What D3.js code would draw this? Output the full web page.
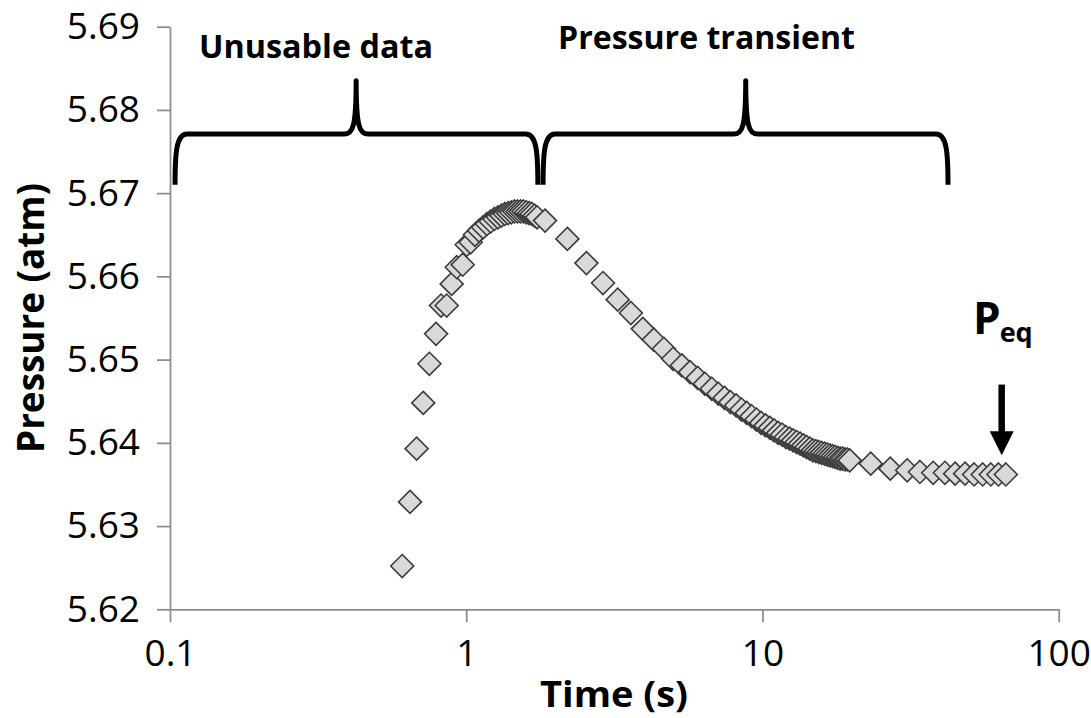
<!DOCTYPE html>
<html>
<head>
<meta charset="utf-8">
<script src="https://cdn.jsdelivr.net/npm/d3@7"></script>
<style>
  html, body { margin: 0; padding: 0; background: #ffffff; }
  svg { display: block; }
</style>
</head>
<body>
<script>
// Time (s) and pressure (atm) readings: fast sampling through the peak
const timeRise = [0.608, 0.646, 0.680, 0.716, 0.751, 0.791, 0.822, 0.859, 0.893, 0.929, 0.973, 1.004, 1.035,
  1.07, 1.105, 1.14, 1.175, 1.21, 1.245, 1.28, 1.315, 1.35, 1.385, 1.42, 1.455, 1.49, 1.525, 1.56, 1.595,
  1.63, 1.665, 1.70, 1.735];
const pressureRise = [5.6252, 5.6329, 5.6393, 5.6448, 5.6495, 5.6531, 5.6565, 5.6565, 5.6591, 5.6611, 5.6614, 5.6638, 5.6641,
  5.6650, 5.6655, 5.6659, 5.6663, 5.6666, 5.6669, 5.6671, 5.6673, 5.6675, 5.6676, 5.6677, 5.6678, 5.6678, 5.6678, 5.6678, 5.6677,
  5.6676, 5.6675, 5.6673, 5.6671];

// Slower sampling through the decay
const timeDecay = [1.845, 2.195, 2.545, 2.895, 3.245, 3.595, 3.945, 4.295, 4.645, 4.995, 5.345, 5.695, 6.045,
  6.395, 6.745, 7.095, 7.445, 7.795, 8.145, 8.495, 8.845, 9.195, 9.545, 9.895, 10.245, 10.595, 10.945, 11.295,
  11.645, 11.995, 12.345, 12.695, 13.045, 13.395, 13.745, 14.095, 14.445, 14.795, 15.145, 15.495, 15.845,
  16.195, 16.545, 16.895, 17.245, 17.595, 17.945, 18.295, 18.645, 18.995, 19.345, 19.695];
const pressureDecay = [5.6667, 5.6645, 5.6616, 5.6592, 5.6572, 5.6556, 5.6537, 5.6524, 5.6513, 5.6501, 5.6493, 5.6485, 5.6478,
  5.6471, 5.6465, 5.6459, 5.6454, 5.6449, 5.6445, 5.6440, 5.6436, 5.6432, 5.6428, 5.6424, 5.6421, 5.6418, 5.6415, 5.6412,
  5.6410, 5.6407, 5.6405, 5.6403, 5.6401, 5.6399, 5.6397, 5.6395, 5.6393, 5.6391, 5.6390, 5.6389, 5.6388,
  5.6387, 5.6386, 5.6385, 5.6384, 5.6383, 5.6382, 5.6381, 5.6381, 5.6380, 5.6380, 5.6379];

// Sparse sampling as pressure settles to equilibrium
const timeTail = [23.2, 27.0, 30.8, 34.0, 37.7, 41.3, 44.7, 48.3, 51.8, 55.4, 59.0, 62.6, 66.3];
const pressureTail = [5.6375, 5.6369, 5.6367, 5.6365, 5.6364, 5.6364, 5.6363, 5.6363, 5.6362, 5.6362, 5.6362, 5.6362, 5.6362];

// Axis ticks
const xTicks = [0.1, 1, 10, 100];
const xTickLabels = ["0.1", "1", "10", "100"];
const yTicks = [5.62, 5.63, 5.64, 5.65, 5.66, 5.67, 5.68, 5.69];
const yTickLabels = ["5.62", "5.63", "5.64", "5.65", "5.66", "5.67", "5.68", "5.69"];

// Brace annotations (time span, tip time, label)
const braceStart = [0.104, 1.817];
const braceEnd = [1.745, 42.3];
const braceTip = [0.425, 8.78];
const braceLabels = ["Unusable data", "Pressure transient"];
// Brace levels in pressure units: arm ends, bar, tip
const braceLevels = [5.6710, 5.6771, 5.6835];

// Equilibrium marker
const eqTime = 64.2;
const eqArrowFrom = 5.6470;
const eqArrowTo = 5.6385;

const W = 1091, H = 718;
const plot = { left: 170, right: 1058.7, top: 26.7, bottom: 609.3 };
const font = "'Open Sans', 'DejaVu Sans', sans-serif";

const x = d3.scaleLog().domain([0.1, 100]).range([plot.left, plot.right]);
const y = d3.scaleLinear().domain([5.62, 5.69]).range([plot.bottom, plot.top]);

const svg = d3.select("body").append("svg")
  .attr("width", W).attr("height", H)
  .attr("viewBox", `0 0 ${W} ${H}`);

const axisColor = "#8c8c8c";

// X axis
const gx = svg.append("g")
  .attr("transform", `translate(0,${plot.bottom})`)
  .call(d3.axisBottom(x)
    .tickValues(xTicks)
    .tickFormat((d, i) => xTickLabels[i])
    .tickSizeInner(13).tickSizeOuter(0).tickPadding(17));

// Y axis
const gy = svg.append("g")
  .attr("transform", `translate(${plot.left},0)`)
  .call(d3.axisLeft(y)
    .tickValues(yTicks)
    .tickFormat((d, i) => yTickLabels[i])
    .tickSizeInner(13).tickSizeOuter(0).tickPadding(17));

[gx, gy].forEach(g => {
  g.select(".domain").attr("stroke", axisColor).attr("stroke-width", 1.75);
  g.selectAll(".tick line").attr("stroke", axisColor).attr("stroke-width", 1.75);
  g.selectAll(".tick text")
    .attr("fill", "#000")
    .style("font-family", font)
    .style("font-size", "37px");
});

// Axis titles
svg.append("text")
  .attr("x", 614).attr("y", 707)
  .attr("text-anchor", "middle")
  .attr("textLength", 148).attr("lengthAdjust", "spacingAndGlyphs")
  .style("font-family", font).style("font-weight", "bold").style("font-size", "35px")
  .text("Time (s)");

svg.append("text")
  .attr("transform", "translate(44,318) rotate(-90)")
  .attr("text-anchor", "middle")
  .attr("textLength", 270).attr("lengthAdjust", "spacingAndGlyphs")
  .style("font-family", font).style("font-weight", "bold").style("font-size", "37px")
  .text("Pressure (atm)");

// Scatter series
const points = [];
timeRise.forEach((t, i) => points.push({ t, p: pressureRise[i] }));
timeDecay.forEach((t, i) => points.push({ t, p: pressureDecay[i] }));
timeTail.forEach((t, i) => points.push({ t, p: pressureTail[i] }));

const r = 11.5;
const diamond = `M0,${-r}L${r},0L0,${r}L${-r},0Z`;
svg.append("g")
  .selectAll("path")
  .data(points)
  .join("path")
  .attr("d", diamond)
  .attr("transform", d => `translate(${x(d.t)},${y(d.p)})`)
  .attr("fill", "#d9d9d9")
  .attr("stroke", "#3c3c3c")
  .attr("stroke-width", 1.6);

// Curly braces
function bracePath(x0, x1, xt, yEnd, yBar, yTip) {
  const c = 12;
  return `M${x0},${yEnd}` +
    ` C${x0},${yBar + 20} ${x0 + 1},${yBar} ${x0 + c},${yBar}` +
    ` L${xt - 12},${yBar}` +
    ` C${xt - 3},${yBar} ${xt},${yBar - 8} ${xt},${yTip}` +
    ` C${xt},${yBar - 8} ${xt + 3},${yBar} ${xt + 12},${yBar}` +
    ` L${x1 - c},${yBar}` +
    ` C${x1 - 1},${yBar} ${x1},${yBar + 20} ${x1},${yEnd}`;
}

const braces = svg.append("g");
braceStart.forEach((s, i) => {
  braces.append("path")
    .attr("d", bracePath(x(s), x(braceEnd[i]), x(braceTip[i]),
      y(braceLevels[0]), y(braceLevels[1]), y(braceLevels[2])))
    .attr("fill", "none")
    .attr("stroke", "#000")
    .attr("stroke-width", 5)
    .attr("stroke-linejoin", "round")
    .attr("stroke-linecap", "butt");
});

const labelPos = [{ x: 199, y: 58, w: 234 }, { x: 558, y: 49, w: 297 }];
braceLabels.forEach((txt, i) => {
  svg.append("text")
    .attr("x", labelPos[i].x).attr("y", labelPos[i].y)
    .attr("textLength", labelPos[i].w).attr("lengthAdjust", "spacingAndGlyphs")
    .style("font-family", font).style("font-weight", "bold").style("font-size", "33px")
    .text(txt);
});

// Equilibrium arrow
const ax = x(eqTime);
const yA0 = y(eqArrowFrom), yA1 = y(eqArrowTo);
const headLen = 24, headHalf = 12;
svg.append("line")
  .attr("x1", ax).attr("x2", ax)
  .attr("y1", yA0).attr("y2", yA1 - headLen + 1)
  .attr("stroke", "#000").attr("stroke-width", 6.5);
svg.append("path")
  .attr("d", `M${ax - headHalf},${yA1 - headLen}L${ax + headHalf},${yA1 - headLen}L${ax},${yA1}Z`)
  .attr("fill", "#000");

const peq = svg.append("text")
  .attr("x", 973).attr("y", 334)
  .style("font-family", font).style("font-weight", "bold").style("font-size", "44px");
peq.append("tspan").text("P");
peq.append("tspan").attr("dy", 8).attr("dx", -1).style("font-size", "27px").text("eq");
</script>
</body>
</html>
